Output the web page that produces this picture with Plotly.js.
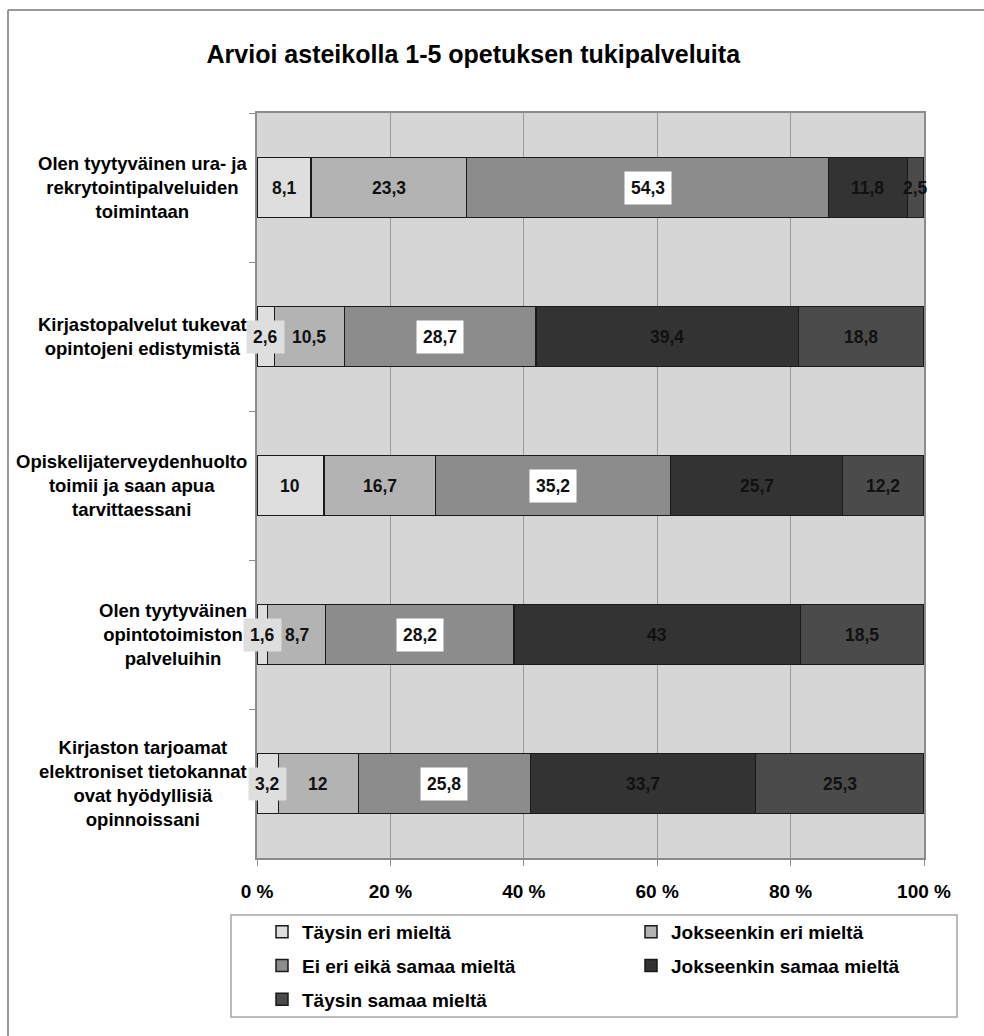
<!DOCTYPE html>
<html>
<head>
<meta charset="utf-8">
<script src="https://cdn.plot.ly/plotly-3.0.1.min.js"></script>
<style>
  html, body { margin: 0; padding: 0; background: #ffffff; }
  #chart { width: 984px; height: 1036px; }
</style>
</head>
<body>
<div id="chart"></div>
<script>
// ---- data ----
const titleText = "Arvioi asteikolla 1-5 opetuksen tukipalveluita";
const categories = [
  "Olen tyytyväinen ura- ja<br>rekrytointipalveluiden<br>toimintaan",
  "Kirjastopalvelut tukevat<br>opintojeni edistymistä",
  "Opiskelijaterveydenhuolto<br>toimii ja saan apua<br>tarvittaessani",
  "Olen tyytyväinen<br>opintotoimiston<br>palveluihin",
  "Kirjaston tarjoamat<br>elektroniset tietokannat<br>ovat hyödyllisiä<br>opinnoissani"
];
const seriesNames = [
  "Täysin eri mieltä",
  "Jokseenkin eri mieltä",
  "Ei eri eikä samaa mieltä",
  "Jokseenkin samaa mieltä",
  "Täysin samaa mieltä"
];
const taysinEri      = [8.1, 2.6, 10, 1.6, 3.2];
const jokseenkinEri  = [23.3, 10.5, 16.7, 8.7, 12];
const eiEriEikaSamaa = [54.3, 28.7, 35.2, 28.2, 25.8];
const jokseenkinSamaa= [11.8, 39.4, 25.7, 43, 33.7];
const taysinSamaa    = [2.5, 18.8, 12.2, 18.5, 25.3];
const xTickVals   = [0, 20, 40, 60, 80, 100];
const xTickLabels = ["0 %", "20 %", "40 %", "60 %", "80 %", "100 %"];

// ---- styling ----
const seriesValues = [taysinEri, jokseenkinEri, eiEriEikaSamaa, jokseenkinSamaa, taysinSamaa];
const colors = ["#dedede", "#b3b3b3", "#8c8c8c", "#333333", "#4b4b4b"];
const labelBg = ["#dedede", "rgba(0,0,0,0)", "#ffffff", "rgba(0,0,0,0)", "rgba(0,0,0,0)"];
const legendOf = ["legend", "legend2", "legend", "legend2", "legend"];
const FONT = "Arial, 'Liberation Sans', sans-serif";

const traces = seriesValues.map((vals, i) => ({
  type: "bar",
  orientation: "h",
  name: seriesNames[i],
  legend: legendOf[i],
  legendgroup: "g" + i,
  y: categories,
  x: vals,
  marker: { color: colors[i], line: { color: "#1a1a1a", width: 1.5 } },
  hoverinfo: "skip"
}));

// data labels placed at the centre of each (normalised) segment
const annotations = [];
categories.forEach((cat, r) => {
  const total = seriesValues.reduce((s, arr) => s + arr[r], 0);
  let cum = 0;
  seriesValues.forEach((arr, i) => {
    const v = arr[r];
    const share = v / total * 100;
    const mid = cum + share / 2;
    cum += share;
    annotations.push({
      x: mid, y: cat, xref: "x", yref: "y",
      text: String(v).replace(".", ","),
      showarrow: false,
      font: { family: FONT, size: 17.5, color: "#111111", weight: 700 },
      bgcolor: labelBg[i],
      borderpad: 6
    });
  });
  // category label, block right-aligned, lines centred
  annotations.push({
    x: -0.012, y: cat, xref: "paper", yref: "y",
    xanchor: "right", yanchor: "middle", align: "center",
    text: cat, showarrow: false,
    font: { family: FONT, size: 18.5, color: "#000000", weight: 700 }
  });
});

const pxX = px => (px - 257) / 667;
const pxY = py => (858 - py) / 745;

const legendCommon = {
  orientation: "v",
  xanchor: "left",
  yanchor: "top",
  font: { family: FONT, size: 19, color: "#000000", weight: 700 },
  bgcolor: "rgba(0,0,0,0)",
  tracegroupgap: 6,
  traceorder: "grouped"
};

const layout = {
  width: 984, height: 1036,
  margin: { l: 257, r: 60, t: 113, b: 178, autoexpand: false },
  paper_bgcolor: "#ffffff",
  plot_bgcolor: "#d6d6d6",
  barmode: "stack",
  barnorm: "percent",
  bargap: 0.6,
  showlegend: true,
  title: {
    text: titleText,
    xref: "container", yref: "container",
    x: 0.481, xanchor: "center",
    y: 1 - 54 / 1036, yanchor: "middle",
    font: { family: FONT, size: 25, color: "#000000", weight: 700 }
  },
  xaxis: {
    range: [0, 100],
    tickvals: xTickVals,
    ticktext: xTickLabels,
    ticks: "outside", ticklen: 6, tickcolor: "#8c8c8c", tickwidth: 1,
    ticklabelstandoff: 9,
    showgrid: true, gridcolor: "#9a9a9a", gridwidth: 1,
    showline: true, linecolor: "#8c8c8c", linewidth: 2, mirror: true,
    zeroline: false,
    tickfont: { family: FONT, size: 19, color: "#000000", weight: 700 },
    automargin: false,
    fixedrange: true
  },
  yaxis: {
    type: "category",
    autorange: "reversed",
    showticklabels: false,
    ticks: "outside", ticklen: 6, tickcolor: "#8c8c8c", tickson: "boundaries",
    showgrid: false,
    showline: true, linecolor: "#8c8c8c", linewidth: 2, mirror: true,
    zeroline: false,
    automargin: false,
    fixedrange: true
  },
  legend: Object.assign({}, legendCommon, { x: pxX(262), y: pxY(913) }),
  legend2: Object.assign({}, legendCommon, { x: pxX(631), y: pxY(913) }),
  annotations: annotations,
  shapes: [
    { type: "rect", xref: "paper", yref: "paper",
      x0: pxX(231), x1: pxX(957), y0: pxY(1017), y1: pxY(915),
      line: { color: "#a6a6a6", width: 1.5 }, fillcolor: "rgba(0,0,0,0)", layer: "below" },
    { type: "line", xref: "paper", yref: "paper",
      x0: pxX(8), x1: pxX(984), y0: pxY(10), y1: pxY(10),
      line: { color: "#9a9a9a", width: 2 } },
    { type: "line", xref: "paper", yref: "paper",
      x0: pxX(8), x1: pxX(8), y0: pxY(1036), y1: pxY(10),
      line: { color: "#9a9a9a", width: 2 } }
  ]
};

Plotly.newPlot("chart", traces, layout, { displayModeBar: false, staticPlot: true });
</script>
</body>
</html>
